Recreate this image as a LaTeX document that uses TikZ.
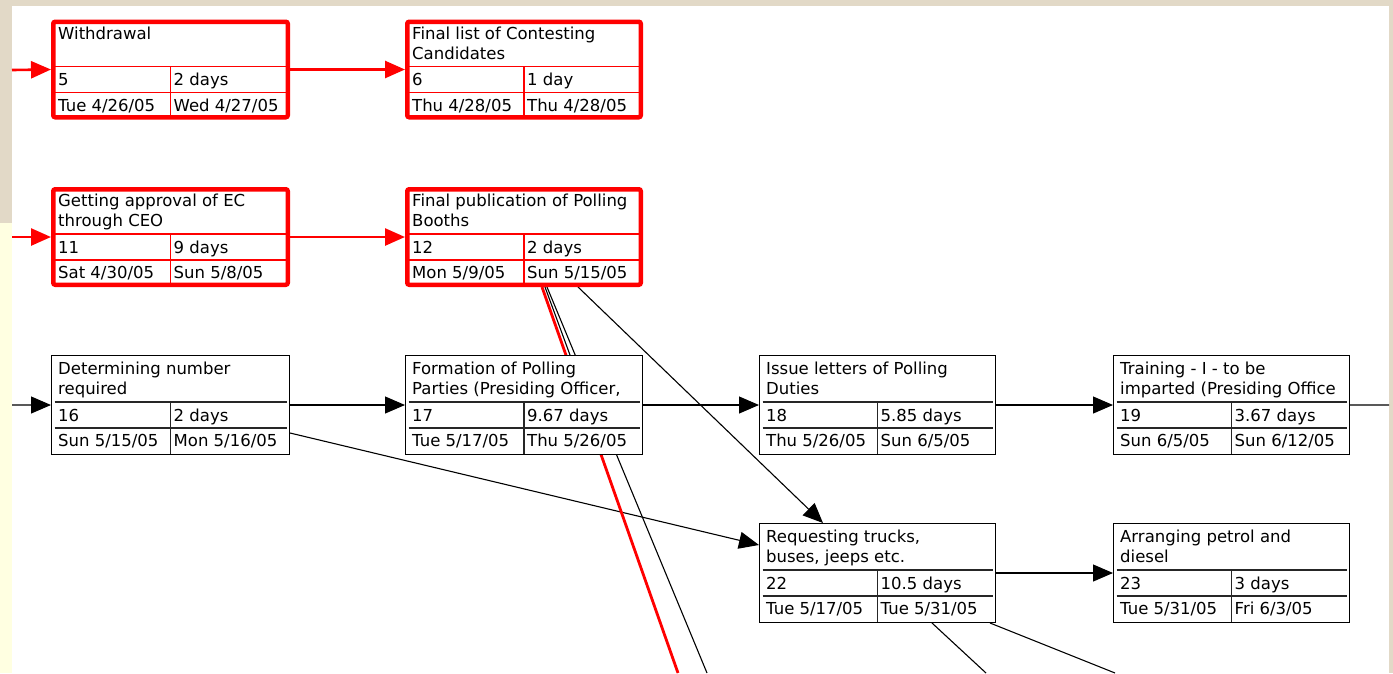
\documentclass[tikz,border=0pt]{standalone}
\usepackage{fontspec}
\setmainfont{DejaVu Sans}
\usetikzlibrary{arrows.meta,calc}
\pgfdeclarelayer{bg}
\pgfdeclarelayer{lines}
\pgfsetlayers{bg,lines,main}
\definecolor{beige}{RGB}{226,217,199}
\definecolor{paleyellow}{RGB}{255,255,225}
\definecolor{pred}{RGB}{255,0,0}
\tikzset{
  redbox/.style={draw=pred, fill=white, rounded corners=2pt, inner sep=0pt},
  blackbox/.style={draw=black, fill=white, inner sep=0pt},
  reddiv/.style={draw=pred, line width=1.2pt},
  blackdiv/.style={draw=black!85, line width=1.2pt},
  txt/.style={inner sep=0pt, anchor=base west, font=\fontsize{16.5}{19}\selectfont},
  tip/.style={-{Triangle[length=20pt,width=17pt]}},
  redcon/.style={draw=pred, line width=2.6pt, tip},
  redline/.style={draw=pred, line width=2.8pt},
  blackcon/.style={draw=black, line width=1.1pt, tip},
  blackline/.style={draw=black, line width=1.1pt},
}
% #1 name, #2 L, #3 T, #4 W, #5 kind, #6 line width
\newcommand{\taskbox}[6]{%
  \node[#5box, line width=#6pt, anchor=north west,
        minimum width={#4pt-#6pt}, minimum height={100pt-#6pt}] (#1) at (#2,#3) {};
  \draw[#5div] ($(#1.north west)+(3.5,47)$) -- ($(#1.north east)+(-3.5,47)$);
  \draw[#5div] ($(#1.north west)+(3.5,73)$) -- ($(#1.north east)+(-3.5,73)$);
  \draw[#5div] ($(#1.north)+(0,47)$) -- ($(#1.south)+(0,-1.5)$);
}
% #1 name, #2 line1, #3 line2, #4 id, #5 duration, #6 start, #7 finish
\newcommand{\tasktext}[7]{%
  \node[txt] (#1-ta) at ($(#1.north west)+(7,19.5)$) {#2};
  \node[txt] (#1-tb) at ($(#1.north west)+(7,39.5)$) {#3};
  \node[txt] (#1-id) at ($(#1.north west)+(7,66)$) {#4};
  \node[txt] (#1-du) at ($(#1.north)+(3,66)$) {#5};
  \node[txt] (#1-st) at ($(#1.north west)+(7,91.5)$) {#6};
  \node[txt] (#1-fi) at ($(#1.north)+(3,91.5)$) {#7};
}
\begin{document}
\begin{tikzpicture}[x=1pt,y=-1pt]
\useasboundingbox (0,0) rectangle (1393,673);
\begin{pgfonlayer}{bg}
  \fill[beige] (0,0) rectangle (1393,673);
  \fill[paleyellow] (0,223) rectangle (12,673);
  \fill[white] (12,6) rectangle (1389,673);
\end{pgfonlayer}

% boxes
\taskbox{b5}{51}{19.5}{239}{red}{4.5}
\taskbox{b6}{405}{19.5}{238}{red}{4.5}
\taskbox{b11}{51}{187}{239}{red}{4.5}
\taskbox{b12}{405}{187}{238}{red}{4.5}
\taskbox{b16}{51}{355}{239}{black}{1.3}
\taskbox{b17}{405}{355}{238}{black}{1.3}
\taskbox{b18}{759}{355}{237}{black}{1.3}
\taskbox{b19}{1113}{355}{237}{black}{1.3}
\taskbox{b22}{759}{523}{237}{black}{1.3}
\taskbox{b23}{1113}{523}{237}{black}{1.3}

\tasktext{b5}{Withdrawal}{}{5}{2 days}{Tue 4/26/05}{Wed 4/27/05}
\tasktext{b6}{Final list of Contesting}{Candidates}{6}{1 day}{Thu 4/28/05}{Thu 4/28/05}
\tasktext{b11}{Getting approval of EC}{through CEO}{11}{9 days}{Sat 4/30/05}{Sun 5/8/05}
\tasktext{b12}{Final publication of Polling}{Booths}{12}{2 days}{Mon 5/9/05}{Sun 5/15/05}
\tasktext{b16}{Determining number}{required}{16}{2 days}{Sun 5/15/05}{Mon 5/16/05}
\tasktext{b17}{Formation of Polling}{Parties (Presiding Officer,}{17}{9.67 days}{Tue 5/17/05}{Thu 5/26/05}
\tasktext{b18}{Issue letters of Polling}{Duties}{18}{5.85 days}{Thu 5/26/05}{Sun 6/5/05}
\tasktext{b19}{Training - I - to be}{imparted (Presiding Office}{19}{3.67 days}{Sun 6/5/05}{Sun 6/12/05}
\tasktext{b22}{Requesting trucks,}{buses, jeeps etc.}{22}{10.5 days}{Tue 5/17/05}{Tue 5/31/05}
\tasktext{b23}{Arranging petrol and}{diesel}{23}{3 days}{Tue 5/31/05}{Fri 6/3/05}

% free ends
\coordinate (in5) at (12,70);
\coordinate (in11) at (12,237);
\coordinate (in16) at (12,405);
\coordinate (out19) at (1389,405);
\coordinate (r1) at (678,673);
\coordinate (k1) at (707,673);
\coordinate (k2) at (986,673);
\coordinate (k3) at (1115,673);

\begin{pgfonlayer}{lines}
  \draw[redcon] (in5) -- (b5.west);
  \draw[redcon] (b5.east) -- (b6.west);
  \draw[redcon] (in11) -- (b11.west);
  \draw[redcon] (b11.east) -- (b12.west);
  \draw[blackcon] (in16) -- (b16.west);
  \draw[blackcon] (b16.east) -- (b17.west);
  \draw[blackcon] (b17.east) -- (b18.west);
  \draw[blackcon] (b18.east) -- (b19.west);
  \draw[blackline] (b19.east) -- (out19);
  \draw[blackcon] (b22.east) -- (b23.west);
  \draw[blackcon] ($(b16.north east)+(0,78)$) -- ($(b22.north west)+(0,22)$);
  \draw[blackcon] ($(b12.south west)+(173,0)$) -- ($(b22.north west)+(64,0)$);
  \draw[redline] ($(b12.south west)+(137,0)$) -- (r1);
  \draw[blackline] ($(b12.south west)+(142,0)$) -- (k1);
  \draw[blackline] ($(b12.south west)+(140,0)$) -- ($(b17.north west)+(165,0)$);
  \draw[blackline] ($(b22.south west)+(173,0)$) -- (k2);
  \draw[blackline] ($(b22.south west)+(231,0)$) -- (k3);
\end{pgfonlayer}
\end{tikzpicture}
\end{document}
